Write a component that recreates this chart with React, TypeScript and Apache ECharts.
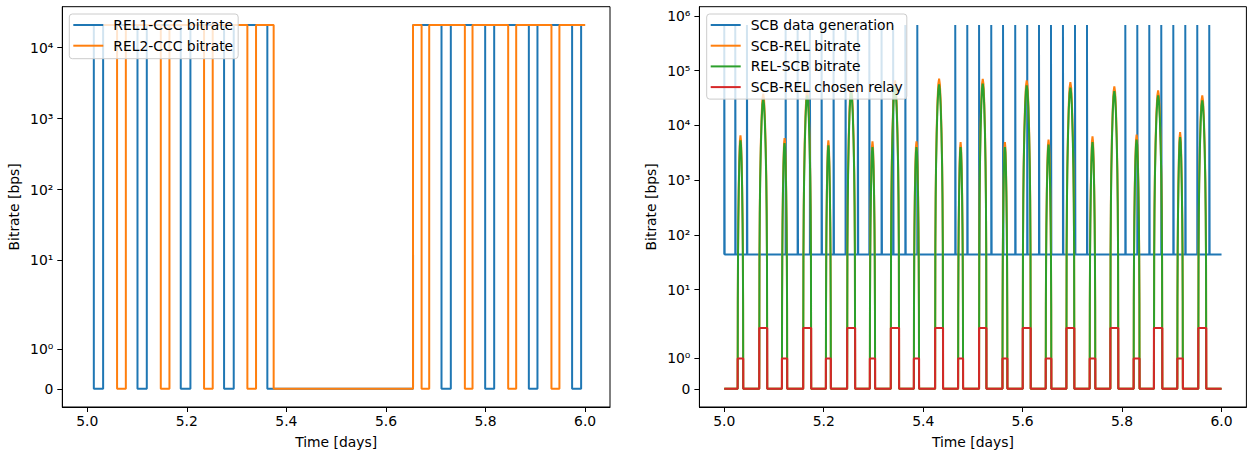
import React, { useEffect, useRef } from 'react';
import * as echarts from 'echarts';

// ---------- axes ----------
const X_TICKS = [5.0, 5.2, 5.4, 5.6, 5.8, 6.0];
const LEFT_Y_TICKS = [0, 1, 10, 100, 1000, 10000];
const RIGHT_Y_TICKS = [0, 1, 10, 100, 1000, 10000, 100000, 1000000];
const Y_TICK_LABELS = ['0', '10⁰', '10¹', '10²', '10³', '10⁴', '10⁵', '10⁶'];
const T_START = 5.0;
const T_END = 6.0;

// ---------- left chart: relay -> CCC bitrate (pulse trains) ----------
const CCC_HIGH = 21000;
// intervals [from, to] (days) where the bitrate is 0
const REL1_LOW = [
  [5.0133, 5.032], [5.101, 5.1197], [5.1879, 5.2073], [5.2749, 5.2943],
  [5.3618, 5.6544], [5.7116, 5.7303], [5.7993, 5.8174], [5.887, 5.9043], [5.9739, 5.992],
];
const REL2_LOW = [
  [5.06, 5.0776], [5.1478, 5.1652], [5.2347, 5.2521], [5.3217, 5.3391],
  [5.3745, 5.6544], [5.6716, 5.6869], [5.7585, 5.7739], [5.8455, 5.8616], [5.9324, 5.9484],
];

// ---------- right chart ----------
const SCB_BASE = 44;
const SCB_PEAK = 685000;
const SCB_PULSE = 0.0008;
const SCB_SPIKES = [
  5.0, 5.0221, 5.0456,
  5.1234, 5.1475, 5.1722, 5.1957, 5.2198, 5.2439, 5.2686, 5.2917, 5.3163, 5.3396, 5.3641, 5.3882,
  5.4645, 5.4887, 5.5124, 5.5369, 5.5606, 5.5851, 5.6092, 5.6329, 5.657, 5.6811, 5.7053, 5.7294,
  5.8065, 5.8306, 5.8547, 5.8788, 5.903, 5.9271, 5.9512, 5.9753,
];
const ARC_START = [
  5.0269, 5.0703, 5.1159, 5.1587, 5.2043, 5.2471, 5.2927, 5.3349, 5.3812, 5.424, 5.4702,
  5.5124, 5.5594, 5.6002, 5.6464, 5.688, 5.7348, 5.7764, 5.8232, 5.864, 5.911, 5.9532,
];
const ARC_END = [
  5.0382, 5.0864, 5.1266, 5.1748, 5.2144, 5.2632, 5.3034, 5.3516, 5.3918, 5.44, 5.4803,
  5.5272, 5.5694, 5.6163, 5.6578, 5.704, 5.7462, 5.7924, 5.8352, 5.8809, 5.9223, 5.9693,
];
const RELAY = [1, 2, 1, 2, 1, 2, 1, 2, 1, 2, 1, 2, 1, 2, 1, 2, 1, 2, 1, 2, 1, 2];
const SCBREL_PEAK = [
  6580, 38000, 5870, 44800, 5330, 51400, 5110, 66200, 5110, 71100, 4970,
  71100, 4970, 66200, 5490, 61700, 6310, 51400, 6780, 43500, 7550, 35200,
];
const RELSCB_PEAK = [
  5330, 30000, 4760, 35200, 4320, 41200, 4030, 53700, 4030, 56000, 4030,
  57700, 4030, 53700, 4450, 48700, 4970, 42300, 5490, 35200, 6120, 28600,
];
// dome profile of a pass: fraction of pass, decades below peak
const ARC_SHAPE_FRAC = [0.01, 0.03, 0.07, 0.12, 0.2, 0.3, 0.4, 0.5];
const ARC_SHAPE_DEC = [-4.5, -3.0, -2.1, -1.5, -0.9, -0.4, -0.1, 0];

// ---------- symlog scale (linthresh 2, linscale 1, base 10) ----------
const LINTHRESH = 2;
const LINSCALE_ADJ = 1 / (1 - 1 / 10);
const sym = (v: number) =>
  v <= LINTHRESH ? (v / LINTHRESH) * LINSCALE_ADJ : LINSCALE_ADJ + Math.log10(v / LINTHRESH);

const FONT = 'DejaVu Sans';
const FS = 13.9;
const BLUE = '#1f77b4';
const ORANGE = '#ff7f0e';
const GREEN = '#2ca02c';
const RED = '#d62728';

function pulseTrain(lows: number[][], high: number) {
  const pts: number[][] = [[T_START, high]];
  for (const [a, b] of lows) {
    pts.push([a, high], [a, 0], [b, 0], [b, high]);
  }
  pts.push([T_END, high]);
  return pts.map(([t, v]) => [t, sym(v)]);
}

function spikeTrain() {
  const pts: number[][] = [];
  for (const s of SCB_SPIKES) {
    pts.push([s, SCB_BASE], [s, SCB_PEAK], [s + SCB_PULSE, SCB_PEAK], [s + SCB_PULSE, SCB_BASE]);
  }
  pts.push([T_END, SCB_BASE]);
  return pts.map(([t, v]) => [t, sym(v)]);
}

function arcs(peaks: number[]) {
  const pts: number[][] = [[T_START, 0]];
  for (let i = 0; i < ARC_START.length; i++) {
    const s = ARC_START[i];
    const e = ARC_END[i];
    const d = e - s;
    pts.push([s, 0]);
    for (let k = 0; k < ARC_SHAPE_FRAC.length; k++) {
      pts.push([s + ARC_SHAPE_FRAC[k] * d, peaks[i] * Math.pow(10, ARC_SHAPE_DEC[k])]);
    }
    for (let k = ARC_SHAPE_FRAC.length - 2; k >= 0; k--) {
      pts.push([e - ARC_SHAPE_FRAC[k] * d, peaks[i] * Math.pow(10, ARC_SHAPE_DEC[k])]);
    }
    pts.push([e, 0]);
  }
  pts.push([T_END, 0]);
  return pts.map(([t, v]) => [t, sym(v)]);
}

function relaySteps() {
  const pts: number[][] = [[T_START, 0]];
  for (let i = 0; i < ARC_START.length; i++) {
    pts.push([ARC_START[i], 0], [ARC_START[i], RELAY[i]], [ARC_END[i], RELAY[i]], [ARC_END[i], 0]);
  }
  pts.push([T_END, 0]);
  return pts.map(([t, v]) => [t, sym(v)]);
}

function yAxis(gridIndex: number, ticks: number[], dataMax: number) {
  const top = sym(dataMax);
  const vals = ticks.map(sym);
  return {
    type: 'value',
    gridIndex,
    min: -0.05 * top,
    max: top * 1.05,
    name: 'Bitrate [bps]',
    nameLocation: 'middle',
    nameGap: 41,
    nameRotate: 90,
    nameTextStyle: { fontFamily: FONT, fontSize: FS, color: '#000' },
    splitLine: { show: false },
    axisLine: { show: true, onZero: false, lineStyle: { color: '#000', width: 1 } },
    axisTick: { show: true, length: 5, customValues: vals, lineStyle: { color: '#000', width: 1 } },
    axisLabel: {
      customValues: vals,
      margin: 9,
      fontFamily: FONT,
      fontSize: FS,
      color: '#000',
      formatter: (v: number) => {
        const i = vals.findIndex((x) => Math.abs(x - v) < 1e-6);
        return i >= 0 ? Y_TICK_LABELS[i] : '';
      },
    },
  };
}

function xAxis(gridIndex: number) {
  return {
    type: 'value',
    gridIndex,
    min: 4.95,
    max: 6.05,
    name: 'Time [days]',
    nameLocation: 'middle',
    nameGap: 28,
    nameTextStyle: { fontFamily: FONT, fontSize: FS, color: '#000' },
    splitLine: { show: false },
    axisLine: { show: true, onZero: false, lineStyle: { color: '#000', width: 1 } },
    axisTick: { show: true, length: 5, customValues: X_TICKS, lineStyle: { color: '#000', width: 1 } },
    axisLabel: {
      customValues: X_TICKS,
      margin: 7,
      fontFamily: FONT,
      fontSize: FS,
      color: '#000',
      formatter: (v: number) => v.toFixed(1),
    },
  };
}

function lineSeries(name: string, color: string, data: number[][], idx: number) {
  return {
    type: 'line',
    name,
    xAxisIndex: idx,
    yAxisIndex: idx,
    data,
    showSymbol: false,
    symbol: 'none',
    color,
    lineStyle: { color, width: 2 },
    animation: false,
  };
}

function legend(left: number, names: string[], pad: number[]) {
  return {
    left,
    top: 14,
    orient: 'vertical',
    data: names,
    itemWidth: 30,
    itemHeight: 14,
    itemGap: 6.7,
    padding: pad,
    backgroundColor: 'rgba(255,255,255,0.8)',
    borderColor: '#cccccc',
    borderWidth: 1,
    borderRadius: 3,
    selectedMode: false,
    itemStyle: { opacity: 0 },
    lineStyle: { width: 2 },
    textStyle: { fontFamily: FONT, fontSize: FS, color: '#000', padding: [0, 0, 0, 5] },
  };
}

export default function App() {
  const ref = useRef<HTMLDivElement>(null);
  useEffect(() => {
    if (!ref.current) return;
    const chart = echarts.init(ref.current, undefined, { renderer: 'svg' });
    chart.setOption({
      animation: false,
      backgroundColor: '#ffffff',
      textStyle: { fontFamily: FONT },
      grid: [
        { left: 62.3, top: 6.7, width: 547.7, height: 400.3, show: true, borderColor: '#000', borderWidth: 1 },
        { left: 699.4, top: 6.7, width: 547, height: 400.3, show: true, borderColor: '#000', borderWidth: 1 },
      ],
      xAxis: [xAxis(0), xAxis(1)],
      yAxis: [yAxis(0, LEFT_Y_TICKS, CCC_HIGH), yAxis(1, RIGHT_Y_TICKS, SCB_PEAK)],
      legend: [
        legend(69.3, ['REL1-CCC bitrate', 'REL2-CCC bitrate'], [4, 5, 6, 3]),
        legend(706.7, ['SCB data generation', 'SCB-REL bitrate', 'REL-SCB bitrate', 'SCB-REL chosen relay'], [4, 4, 5, 3]),
      ],
      series: [
        lineSeries('REL1-CCC bitrate', BLUE, pulseTrain(REL1_LOW, CCC_HIGH), 0),
        lineSeries('REL2-CCC bitrate', ORANGE, pulseTrain(REL2_LOW, CCC_HIGH), 0),
        lineSeries('SCB data generation', BLUE, spikeTrain(), 1),
        lineSeries('SCB-REL bitrate', ORANGE, arcs(SCBREL_PEAK), 1),
        lineSeries('REL-SCB bitrate', GREEN, arcs(RELSCB_PEAK), 1),
        lineSeries('SCB-REL chosen relay', RED, relaySteps(), 1),
      ],
    });
    return () => chart.dispose();
  }, []);
  return (
    <div
      ref={ref}
      style={{ position: 'absolute', left: 0, top: 0, width: 1247, height: 457, background: '#fff' }}
    />
  );
}
